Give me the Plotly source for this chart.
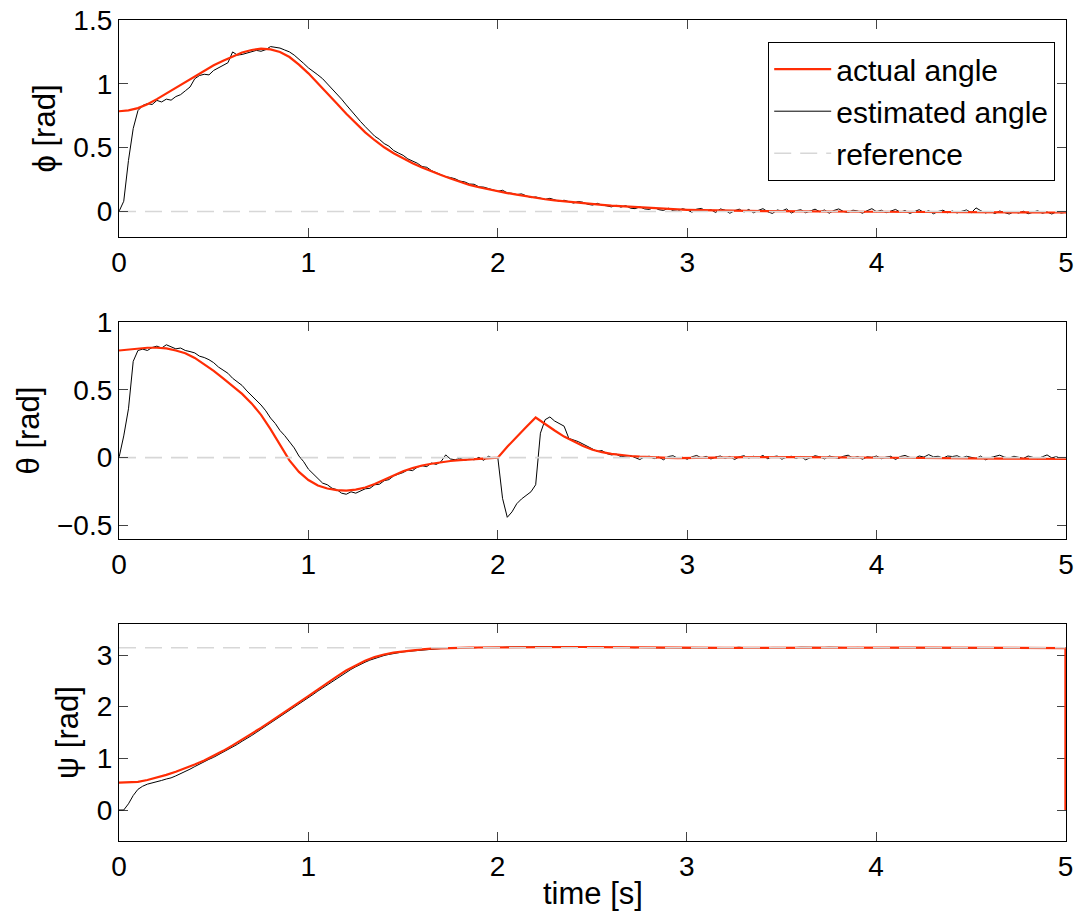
import numpy as np
import plotly.graph_objects as go

# ---------------- data ----------------
t_act = np.round(np.arange(101) * 0.05, 3)      # sample times of actual angles
t_est = np.round(np.arange(201) * 0.025, 4)     # sample times of estimated angles
t_ref = [0.0, 5.0]

phi_act = [
    0.785, 0.792, 0.810, 0.840, 0.880, 0.925, 0.970, 1.015, 1.060, 1.105,
    1.145, 1.180, 1.215, 1.245, 1.265, 1.275, 1.270, 1.250, 1.210, 1.150,
    1.082, 1.005, 0.925, 0.845, 0.765, 0.690, 0.620, 0.558, 0.503, 0.456,
    0.415, 0.378, 0.344, 0.313, 0.285, 0.258, 0.230, 0.208, 0.190, 0.173,
    0.157, 0.144, 0.132, 0.119, 0.106, 0.096, 0.087, 0.079, 0.072, 0.065,
    0.058, 0.052, 0.046, 0.041, 0.036, 0.031, 0.027, 0.023, 0.019, 0.016,
    0.013, 0.011, 0.009, 0.007, 0.006, 0.005, 0.004, 0.003, 0.002, 0.002,
    0.001, 0.001, 0.000, 0.000, 0.000, -0.001, -0.001, -0.001, -0.001, -0.002,
    -0.002, -0.002, -0.003, -0.003, -0.003, -0.004, -0.004, -0.004, -0.005, -0.005,
    -0.005, -0.006, -0.006, -0.006, -0.007, -0.007, -0.007, -0.008, -0.008, -0.008,
    -0.008]

phi_est = [
    0.000, 0.080, 0.400, 0.650, 0.790, 0.830, 0.845, 0.838,
    0.870, 0.858, 0.880, 0.872, 0.900, 0.915, 0.945, 0.975,
    1.040, 1.065, 1.075, 1.070, 1.105, 1.125, 1.150, 1.165,
    1.250, 1.225, 1.230, 1.240, 1.252, 1.262, 1.255, 1.268,
    1.292, 1.285, 1.280, 1.265, 1.250, 1.225, 1.195, 1.160,
    1.125, 1.100, 1.070, 1.040, 1.000, 0.965, 0.920, 0.880,
    0.835, 0.790, 0.745, 0.705, 0.665, 0.630, 0.590, 0.565,
    0.532, 0.512, 0.478, 0.458, 0.440, 0.412, 0.395, 0.378,
    0.352, 0.346, 0.320, 0.303, 0.292, 0.272, 0.266, 0.256,
    0.238, 0.232, 0.215, 0.213, 0.193, 0.191, 0.180, 0.170,
    0.158, 0.166, 0.146, 0.142, 0.132, 0.138, 0.122, 0.108,
    0.114, 0.104, 0.095, 0.103, 0.090, 0.080, 0.088, 0.078,
    0.066, 0.078, 0.072, 0.056, 0.050, 0.064, 0.050, 0.044,
    0.036, 0.048, 0.034, 0.046, 0.026, 0.022, 0.036, 0.020,
    0.016, 0.032, 0.014, 0.008, 0.026, 0.006, 0.002, 0.022,
    0.012, -0.006, 0.018, 0.024, 0.002, 0.014, -0.008, 0.020,
    0.010, -0.014, 0.006, 0.018, -0.004, 0.016, -0.010, 0.008,
    0.022, -0.002, -0.016, 0.012, 0.004, 0.020, -0.012, 0.006,
    0.014, -0.010, 0.002, 0.018, -0.002, 0.012, -0.014, 0.008,
    0.020, 0.000, -0.008, 0.010, 0.004, -0.014, 0.006, 0.022,
    -0.002, 0.010, -0.010, 0.004, 0.016, -0.006, 0.008, -0.016,
    0.002, 0.014, -0.008, 0.006, -0.018, 0.000, 0.010, -0.010,
    0.004, -0.012, 0.002, 0.012, -0.010, 0.028, 0.006, -0.012,
    0.000, -0.016, 0.004, -0.008, -0.020, -0.002, -0.012, 0.002,
    -0.018, -0.006, 0.006, -0.014, -0.004, -0.020, -0.002, -0.012,
    -0.006]

theta_act = [
    0.790, 0.798, 0.805, 0.810, 0.810, 0.805, 0.790, 0.770, 0.735, 0.690,
    0.640, 0.585, 0.530, 0.470, 0.400, 0.315, 0.210, 0.090, -0.020, -0.105,
    -0.165, -0.205, -0.228, -0.240, -0.243, -0.236, -0.220, -0.195, -0.163, -0.130,
    -0.100, -0.077, -0.058, -0.045, -0.034, -0.025, -0.018, -0.013, -0.008, -0.004,
    0.000, 0.080, 0.155, 0.225, 0.296, 0.245, 0.200, 0.155, 0.118, 0.085,
    0.058, 0.040, 0.028, 0.019, 0.012, 0.007, 0.003, 0.000, -0.002, -0.003,
    -0.003, -0.002, -0.001, 0.000, 0.001, 0.002, 0.003, 0.004, 0.004, 0.004,
    0.004, 0.003, 0.003, 0.002, 0.002, 0.001, 0.001, 0.000, 0.000, 0.000,
    0.000, -0.001, -0.001, -0.002, -0.002, -0.003, -0.003, -0.004, -0.004, -0.005,
    -0.005, -0.006, -0.006, -0.007, -0.007, -0.008, -0.008, -0.009, -0.009, -0.010,
    -0.010]

theta_est = [
    0.000, 0.160, 0.360, 0.710, 0.790, 0.800, 0.790, 0.812,
    0.822, 0.808, 0.832, 0.815, 0.802, 0.808, 0.790, 0.782,
    0.772, 0.748, 0.738, 0.722, 0.700, 0.668, 0.648, 0.622,
    0.585, 0.560, 0.532, 0.492, 0.458, 0.420, 0.388, 0.345,
    0.292, 0.252, 0.200, 0.162, 0.115, 0.072, 0.012, -0.030,
    -0.085, -0.120, -0.160, -0.188, -0.200, -0.226, -0.236, -0.262,
    -0.270, -0.252, -0.262, -0.243, -0.230, -0.226, -0.200, -0.196,
    -0.170, -0.162, -0.135, -0.122, -0.110, -0.090, -0.096, -0.070,
    -0.060, -0.066, -0.040, -0.050, -0.030, 0.020, -0.010, -0.016,
    -0.004, -0.020, -0.010, -0.016, 0.002, -0.020, 0.010, -0.006,
    0.000, -0.300, -0.440, -0.400, -0.340, -0.305, -0.280, -0.252,
    -0.200, 0.180, 0.280, 0.300, 0.270, 0.252, 0.232, 0.142,
    0.130, 0.118, 0.100, 0.082, 0.070, 0.046, 0.052, 0.030,
    0.020, 0.026, 0.006, 0.012, 0.016, 0.000, -0.014, 0.006,
    0.010, -0.008, 0.004, -0.016, 0.008, 0.014, -0.004, 0.002,
    -0.012, 0.006, 0.016, -0.002, 0.010, -0.010, 0.004, 0.012,
    -0.006, 0.008, -0.014, 0.006, 0.014, -0.004, 0.010, 0.000,
    0.016, -0.008, 0.006, 0.012, -0.012, 0.004, 0.010, -0.006,
    0.008, -0.016, 0.002, 0.014, 0.006, -0.010, 0.012, 0.004,
    -0.006, 0.010, 0.018, -0.004, 0.008, -0.012, 0.006, 0.002,
    0.012, -0.008, 0.004, 0.010, -0.014, 0.008, 0.016, 0.002,
    -0.006, 0.012, 0.004, 0.022, 0.006, 0.010, -0.004, 0.012,
    0.008, 0.014, -0.002, 0.010, 0.004, -0.006, 0.012, -0.016,
    0.000, 0.008, 0.018, 0.004, -0.004, 0.010, 0.002, -0.006,
    0.012, 0.004, -0.008, 0.006, 0.020, -0.002, 0.008, -0.010,
    0.002]

psi_act = [
    0.530, 0.533, 0.545, 0.580, 0.625, 0.680, 0.740, 0.805, 0.880, 0.960,
    1.050, 1.145, 1.250, 1.360, 1.470, 1.590, 1.710, 1.830, 1.955, 2.080,
    2.205, 2.330, 2.460, 2.580, 2.700, 2.800, 2.890, 2.960, 3.010, 3.045,
    3.070, 3.090, 3.110, 3.125, 3.133, 3.138, 3.141, 3.143, 3.145, 3.147,
    3.149, 3.151, 3.153, 3.155, 3.157, 3.158, 3.158, 3.157, 3.156, 3.155,
    3.153, 3.151, 3.149, 3.147, 3.145, 3.143, 3.141, 3.140, 3.139, 3.138,
    3.137, 3.136, 3.136, 3.136, 3.137, 3.138, 3.139, 3.140, 3.141, 3.142,
    3.143, 3.144, 3.145, 3.146, 3.147, 3.148, 3.148, 3.148, 3.147, 3.146,
    3.145, 3.144, 3.143, 3.142, 3.141, 3.140, 3.139, 3.138, 3.137, 3.136,
    3.135, 3.134, 3.134, 3.134, 3.134, 3.134, 3.134, 3.134, 3.134, 3.134,
    3.134]
psi_act_end = 0.0   # final value at t = 5 (vertical drop)

psi_est = [
    0.000, 0.000, 0.120, 0.280, 0.400, 0.460, 0.500, 0.520,
    0.550, 0.572, 0.600, 0.622, 0.660, 0.700, 0.740, 0.790,
    0.840, 0.890, 0.930, 0.980, 1.020, 1.070, 1.112, 1.160,
    1.220, 1.270, 1.330, 1.380, 1.440, 1.500, 1.560, 1.620,
    1.680, 1.740, 1.800, 1.860, 1.920, 1.985, 2.050, 2.110,
    2.170, 2.235, 2.300, 2.360, 2.430, 2.490, 2.550, 2.610,
    2.670, 2.720, 2.770, 2.820, 2.860, 2.900, 2.935, 2.965,
    2.990, 3.010, 3.030, 3.045, 3.060, 3.070, 3.080, 3.090,
    3.100, 3.110, 3.115, 3.120, 3.125, 3.130, 3.130, 3.135,
    3.140, 3.138, 3.143, 3.141, 3.146, 3.144, 3.148, 3.146,
    3.150, 3.147, 3.152, 3.150, 3.155, 3.152, 3.156, 3.154,
    3.158, 3.155, 3.160, 3.156, 3.159, 3.155, 3.158, 3.154,
    3.156, 3.152, 3.155, 3.150, 3.153, 3.149, 3.152, 3.147,
    3.149, 3.145, 3.148, 3.143, 3.146, 3.141, 3.144, 3.140,
    3.142, 3.138, 3.141, 3.137, 3.140, 3.136, 3.139, 3.135,
    3.138, 3.134, 3.137, 3.133, 3.138, 3.135, 3.139, 3.136,
    3.140, 3.137, 3.142, 3.150, 3.143, 3.140, 3.144, 3.141,
    3.145, 3.142, 3.146, 3.143, 3.147, 3.144, 3.148, 3.145,
    3.149, 3.146, 3.150, 3.147, 3.150, 3.146, 3.149, 3.145,
    3.148, 3.144, 3.147, 3.143, 3.146, 3.142, 3.145, 3.141,
    3.144, 3.140, 3.143, 3.139, 3.142, 3.138, 3.141, 3.137,
    3.140, 3.136, 3.139, 3.135, 3.138, 3.134, 3.137, 3.133,
    3.136, 3.132, 3.135, 3.131, 3.134, 3.131, 3.134, 3.130,
    3.133, 3.130, 3.133, 3.129, 3.132, 3.129, 3.132, 3.128,
    3.131, 3.128, 3.131, 3.127, 3.130, 3.127, 3.130, 3.127,
    3.130]

phi_ref = [0.0, 0.0]
theta_ref = [0.0, 0.0]
psi_ref = [np.pi, np.pi]

x_ticks = [0, 1, 2, 3, 4, 5]
phi_ticks = [0, 0.5, 1, 1.5]
theta_ticks = [-0.5, 0, 0.5, 1]
psi_ticks = [0, 1, 2, 3]

y_labels = ["ϕ [rad]", "θ [rad]", "ψ [rad]"]
x_label = "time [s]"
legend_names = ["actual angle", "estimated angle", "reference"]

# ---------------- styling ----------------
FONT = "Liberation Sans, Arial, Helvetica, sans-serif"
RED = "rgb(255,45,5)"
REFC = "rgb(215,215,215)"
FS = 28      # tick labels
FL = 31      # axis labels
FLEG = 30    # legend

fig = go.Figure()

panels = [
    ("x", "y", t_act, phi_act, phi_est, phi_ref),
    ("x2", "y2", t_act, theta_act, theta_est, theta_ref),
    ("x3", "y3", list(t_act) + [5.0], psi_act + [psi_act_end], psi_est, psi_ref),
]

for i, (xa, ya, ta, act, est, ref) in enumerate(panels):
    show = i == 0
    fig.add_trace(go.Scatter(x=t_est, y=est, mode="lines", xaxis=xa, yaxis=ya,
                             line=dict(color="black", width=1),
                             name=legend_names[1], legendgroup="est",
                             legendrank=2, showlegend=show))
    fig.add_trace(go.Scatter(x=ta, y=act, mode="lines", xaxis=xa, yaxis=ya,
                             line=dict(color=RED, width=2.2),
                             name=legend_names[0], legendgroup="act",
                             legendrank=1, showlegend=show))
    fig.add_trace(go.Scatter(x=t_ref, y=ref, mode="lines", xaxis=xa, yaxis=ya,
                             line=dict(color=REFC, width=1.6, dash="17px,9px"),
                             name=legend_names[2], legendgroup="ref",
                             legendrank=3, showlegend=show))

H = 821.0   # plot-area height in px
W = 947.0   # plot-area width in px
doms = [[604 / H, 1.0], [302 / H, 519 / H], [0.0, 217 / H]]
yranges = [[-0.2, 1.5], [-0.6, 1.0], [-0.6, 3.6]]
yticks = [phi_ticks, theta_ticks, psi_ticks]

axis_common = dict(showline=True, linecolor="black", linewidth=1.2, mirror="ticks",
                   ticks="inside", ticklen=9, tickwidth=1.2, tickcolor="#444",
                   showgrid=False, zeroline=False,
                   tickfont=dict(family=FONT, size=FS, color="black"))

layout_axes = {}
for i in range(3):
    sx = "" if i == 0 else str(i + 1)
    layout_axes["xaxis" + sx] = dict(domain=[0, 1], anchor="y" + sx, range=[0, 5],
                                     tickvals=x_ticks, **axis_common)
    layout_axes["yaxis" + sx] = dict(domain=doms[i], anchor="x" + sx, range=yranges[i],
                                     tickvals=yticks[i],
                                     title=dict(text=y_labels[i], standoff=8,
                                                font=dict(family=FONT, size=FL, color="black")),
                                     **axis_common)
layout_axes["xaxis3"]["range"] = [0, 5.003]
layout_axes["xaxis3"]["layer"] = "below traces"
layout_axes["yaxis3"]["layer"] = "below traces"

annotations = [dict(text=x_label, x=0.5, y=-52 / H, xref="paper", yref="paper",
                    xanchor="center", yanchor="middle", showarrow=False,
                    font=dict(family=FONT, size=FL, color="black"))]

fig.update_layout(
    width=1083, height=918,
    margin=dict(l=119, r=17, t=20, b=77, autoexpand=False),
    paper_bgcolor="white", plot_bgcolor="white",
    font=dict(family=FONT, size=FS, color="black"),
    annotations=annotations,
    legend=dict(x=(1055 - 119) / W, y=(841 - 42) / H, xanchor="right", yanchor="top",
                bgcolor="white", bordercolor="black", borderwidth=1.2,
                font=dict(family=FONT, size=FLEG, color="black"),
                itemwidth=57, tracegroupgap=0),
    **layout_axes,
)

# remove the default 8px page margin so the 1083x918 figure fills the window exactly
fig.write_html("out.html", config={"displayModeBar": False},
               post_script="document.body.style.margin='0';document.body.style.overflow='hidden';")
